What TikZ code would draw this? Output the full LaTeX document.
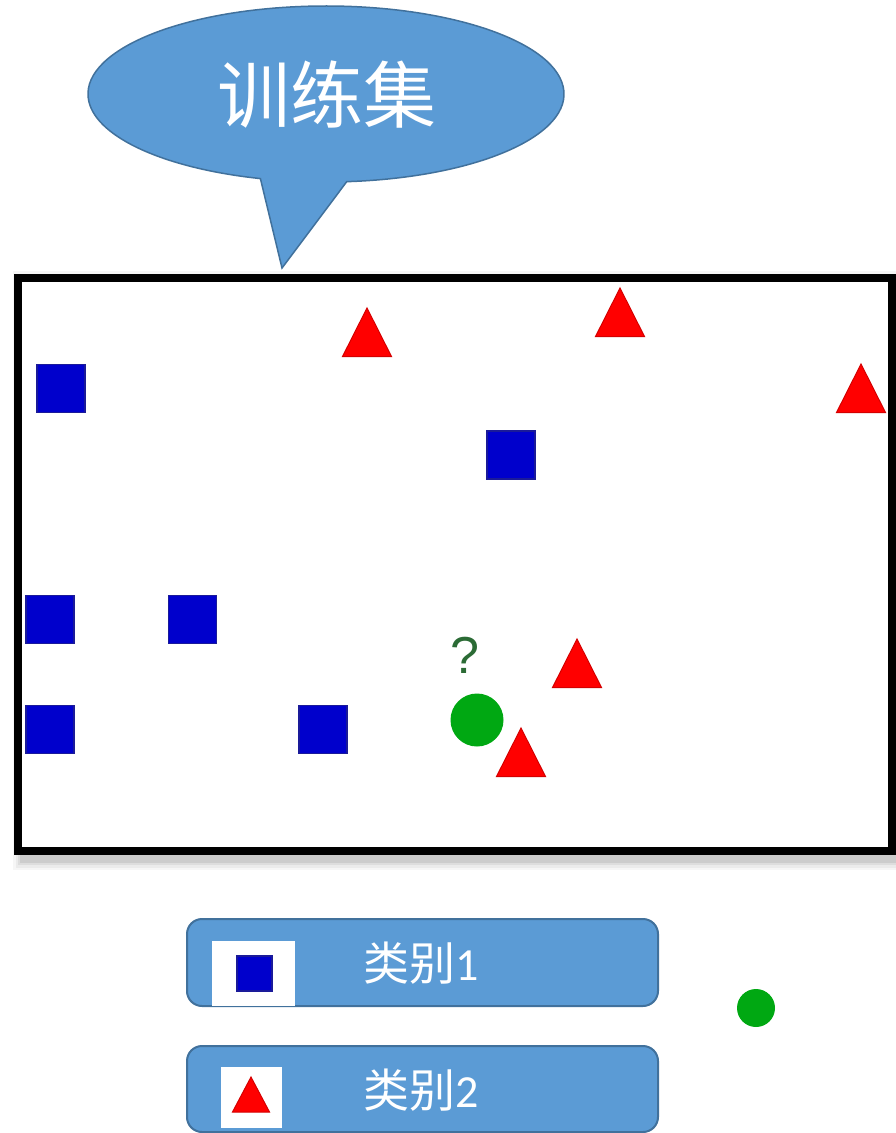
\documentclass[tikz,border=0pt]{standalone}
\usepackage{fontspec}
\setmainfont{Liberation Sans}
\newfontfamily\cjk{Noto Sans CJK SC}
\newfontfamily\numfont{Carlito}
\usetikzlibrary{calc}
\definecolor{callblue}{HTML}{5B9BD5}
\definecolor{calledge}{HTML}{41719C}
\definecolor{sqblue}{HTML}{0000CC}
\definecolor{sqedge}{HTML}{1A1A99}
\definecolor{trired}{HTML}{FF0000}
\definecolor{triedge}{HTML}{D40000}
\definecolor{dotgreen}{HTML}{00A812}
\definecolor{qgreen}{HTML}{2B6B35}
\begin{document}
\begin{tikzpicture}[x=1pt,y=-1pt,
  sq/.style={fill=sqblue, draw=sqedge, line width=1.2pt, minimum size=48pt, inner sep=0pt, outer sep=0pt},
  lsq/.style={sq, minimum size=35pt},
  tri/.pic={\path[fill=trired, draw=triedge, line width=1pt] (0,0) -- (24.5,48.5) -- (-24.5,48.5) -- cycle;},
  ltri/.pic={\path[fill=trired, draw=triedge, line width=1pt] (0,0) -- (18.5,35) -- (-18.5,35) -- cycle;},
  legbox/.style={draw=calledge, fill=callblue, line width=2pt, rounded corners=15pt, minimum width=471pt, minimum height=87pt, inner sep=0pt},
  patch/.style={fill=white, inner sep=0pt, outer sep=0pt},
  legtext/.style={text=white, font={\fontsize{46pt}{46pt}\selectfont}},
  dot/.style={circle, fill=dotgreen, inner sep=0pt, outer sep=0pt}
]
\useasboundingbox (0,0) rectangle (896,1133);

% callout
\coordinate (cc) at (326,94);
\coordinate (tip) at (282,268);
\draw[fill=callblue, draw=calledge, line width=1.5pt, line join=miter]
  ($(cc)+(85:238 and 88)$) arc[start angle=85, end angle=-254, x radius=238, y radius=88] -- (tip) -- cycle;
\node[text=white, font={\cjk\fontsize{73pt}{73pt}\selectfont}] (title) at (327,95) {训练集};

% frame shadow
\foreach \w/\o in {24/0.035, 19/0.045, 14/0.06, 10/0.08}
  \draw[black, opacity=\o, line width=\w pt] (25,283) rectangle (897,858);
\fill[white] (18,277.5) rectangle (892,851);

% squares
\node[sq] (s1) at (61,388.5) {};
\node[sq] (s2) at (511,455) {};
\node[sq] (s3) at (50,619.5) {};
\node[sq] (s4) at (192.5,619.5) {};
\node[sq] (s5) at (50,729.5) {};
\node[sq] (s6) at (323,729.5) {};

% triangles
\pic (t1) at (367,308) {tri};
\pic (t2) at (620,288) {tri};
\pic (t3) at (861,364) {tri};
\pic (t4) at (577,639) {tri};
\pic (t5) at (521,728) {tri};

% unknown point
\node[text=qgreen, font={\fontsize{52pt}{52pt}\selectfont}] (q) at (465,655) {?};
\node[dot, minimum size=53pt] (u) at (477,720) {};

% frame
\draw[black, line width=8pt] (18,277.5) rectangle (892,851);

% legend
\node[legbox] (b1) at (422.5,962.5) {};
\node[patch, minimum width=83pt, minimum height=65pt] (p1) at (253.5,973.5) {};
\node[lsq] (ls) at (254.5,973.5) {};
\node[legtext] (l1) at (421,963) {{\cjk 类别}{\numfont 1}};

\node[legbox, minimum height=86pt] (b2) at (422.5,1089) {};
\node[patch, minimum width=61pt, minimum height=61pt] (p2) at (251.5,1097.5) {};
\pic (lt) at (251,1077) {ltri};
\node[legtext] (l2) at (421,1090) {{\cjk 类别}{\numfont 2}};

\node[dot, minimum size=38pt] (u2) at (756,1008) {};
\end{tikzpicture}
\end{document}
